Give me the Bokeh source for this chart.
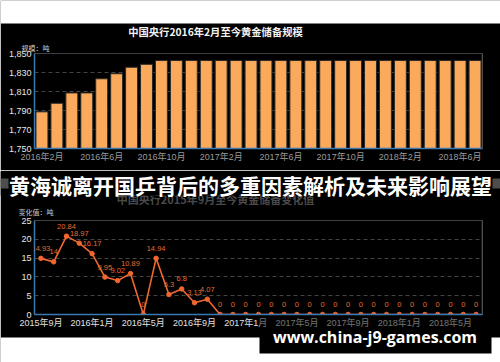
from bokeh.plotting import figure
from bokeh.layouts import column
from bokeh.models import (FixedTicker, Label, LabelSet, BoxAnnotation, Span, Range1d,
                          ColumnDataSource, NumeralTickFormatter)
from bokeh.embed import file_html
from bokeh.resources import INLINE
from bokeh.core.properties import value

# ---------------- data ----------------
months_top = ["2016年2月", "2016年3月", "2016年4月", "2016年5月", "2016年6月", "2016年7月",
              "2016年8月", "2016年9月", "2016年10月", "2016年11月", "2016年12月", "2017年1月",
              "2017年2月", "2017年3月", "2017年4月", "2017年5月", "2017年6月", "2017年7月",
              "2017年8月", "2017年9月", "2017年10月", "2017年11月", "2017年12月", "2018年1月",
              "2018年2月", "2018年3月", "2018年4月", "2018年5月", "2018年6月", "2018年7月"]
reserves = [1788.6, 1797.6, 1808.5, 1808.5, 1823.4, 1828.7, 1835.5, 1838.6, 1842.6, 1842.6,
            1842.6, 1842.6, 1842.6, 1842.6, 1842.6, 1842.6, 1842.6, 1842.6, 1842.6, 1842.6,
            1842.6, 1842.6, 1842.6, 1842.6, 1842.6, 1842.6, 1842.6, 1842.6, 1842.6, 1842.6]
top_yticks = [1750, 1770, 1790, 1810, 1830, 1850]

months_bottom = ["2015年9月", "2015年10月", "2015年11月", "2015年12月", "2016年1月", "2016年2月",
                 "2016年3月", "2016年4月", "2016年5月", "2016年6月", "2016年7月", "2016年8月",
                 "2016年9月", "2016年10月", "2016年11月", "2016年12月", "2017年1月", "2017年2月",
                 "2017年3月", "2017年4月", "2017年5月", "2017年6月", "2017年7月", "2017年8月",
                 "2017年9月", "2017年10月", "2017年11月", "2017年12月", "2018年1月", "2018年2月",
                 "2018年3月", "2018年4月", "2018年5月", "2018年6月", "2018年7月"]
changes = [14.93, 14, 20.84, 18.97, 16.17, 9.95, 9.02, 10.89, 0, 14.94, 5.3, 6.8, 3.13, 4.07,
           0, 0, 0, 0, 0, 0, 0, 0, 0, 0, 0, 0, 0, 0, 0, 0, 0, 0, 0, 0, 0]
bottom_yticks = [0, 5, 10, 15, 20, 25]

top_title = "中国央行2016年2月至今黄金储备规模"
bottom_title = "中国央行2015年9月至今黄金储备变化值"
top_unit = "规模：吨"
bottom_unit = "变化值：吨"
banner = "黄海诚离开国乒背后的多重因素解析及未来影响展望"
watermark = "www.china-j9-games.com"

# ---------------- styles ----------------
FONT = "Liberation Sans, Noto Sans CJK SC, sans-serif"
CJK = "Noto Sans CJK SC"
AXIS_BLUE = "#3c78b0"
BAR = "#fba95a"
LINE = "#f0672f"


def style_common(p):
    p.xgrid.grid_line_color = None
    p.ygrid.grid_line_color = "#454545"
    p.ygrid.grid_line_dash = "4 3"
    for ax in (p.xaxis, p.yaxis):
        ax.axis_line_color = AXIS_BLUE
        ax.axis_line_width = 1.5
        ax.major_tick_line_color = None
        ax.minor_tick_line_color = None
        ax.major_tick_out = 0
        ax.major_tick_in = 0
        ax.minor_tick_out = 0
        ax.minor_tick_in = 0
        ax.major_label_text_font = FONT
        ax.major_label_text_font_size = "9px"
    p.xaxis.major_label_standoff = 3
    p.yaxis.major_label_standoff = 3
    p.yaxis.major_label_text_color = "#e6e6e6"


# ---------------- top chart ----------------
p1 = figure(width=500, height=170, x_range=(-0.5, len(months_top) - 0.5),
            y_range=(top_yticks[0], top_yticks[-1]),
            output_backend="svg", toolbar_location=None,
            min_border_left=34, min_border_right=18, min_border_top=53, min_border_bottom=22,
            background_fill_color="black", border_fill_color="black", outline_line_color=None)
src1 = ColumnDataSource(dict(x=list(range(len(months_top))), top=reserves))
p1.vbar(x="x", top="top", bottom=top_yticks[0], width=0.8, source=src1,
        fill_color=BAR, line_color="#2b2b2b", line_width=1)
style_common(p1)
p1.yaxis.ticker = FixedTicker(ticks=top_yticks)
p1.ygrid.ticker = FixedTicker(ticks=top_yticks)
p1.yaxis.formatter = NumeralTickFormatter(format="0,0")
top_ticks = list(range(0, len(months_top), 4))
p1.xaxis.ticker = FixedTicker(ticks=top_ticks)
p1.xaxis.major_label_overrides = {i: months_top[i] for i in top_ticks}
p1.xaxis.major_label_text_color = "#9a9a9a"
p1.add_layout(Span(location=len(months_top) - 0.5, dimension="height",
                   line_color="#5e5e5e", line_width=1.5))

# ---------------- bottom chart ----------------
p2 = figure(width=500, height=192, x_range=(-0.5, len(months_bottom) - 0.5),
            y_range=(bottom_yticks[0], bottom_yticks[-1]),
            output_backend="svg", toolbar_location=None,
            min_border_left=34, min_border_right=18, min_border_top=50, min_border_bottom=48,
            background_fill_color="black", border_fill_color="black", outline_line_color=None)
src2 = ColumnDataSource(dict(x=list(range(len(months_bottom))), y=changes,
                             label=[f"{v:g}" for v in changes]))
p2.line(x="x", y="y", source=src2, line_color=LINE, line_width=1.6)
p2.scatter(x="x", y="y", source=src2, size=4.5, fill_color=LINE, line_color=LINE)
p2.add_layout(LabelSet(x="x", y="y", text="label", source=src2, y_offset=10,
                       text_align="center", text_baseline="middle",
                       text_font=value("Liberation Sans"), text_font_size="7.5px",
                       text_color="#e56c35"))
style_common(p2)
p2.yaxis.ticker = FixedTicker(ticks=bottom_yticks)
p2.ygrid.ticker = FixedTicker(ticks=bottom_yticks)
bot_ticks = list(range(0, len(months_bottom), 4))
p2.xaxis.ticker = FixedTicker(ticks=bot_ticks)
p2.xaxis.major_label_overrides = {i: months_bottom[i] for i in bot_ticks}
p2.xaxis.major_label_text_color = "#e0e0e0"
p2.add_layout(Span(location=len(months_bottom) - 0.5, dimension="height",
                   line_color="#5e5e5e", line_width=1.5))

# ---------------- overlay (titles, banner, watermark) ----------------
ov = figure(width=500, height=362, x_range=Range1d(0, 500), y_range=Range1d(362, 0),
            x_axis_type=None, y_axis_type=None, toolbar_location=None, output_backend="svg",
            min_border=0, background_fill_color=None, border_fill_color=None,
            outline_line_color=None,
            styles={"position": "absolute", "top": "0px", "left": "0px", "z-index": "10"})


def box(l, r, t, b, color, alpha=1.0):
    ov.add_layout(BoxAnnotation(left=l, right=r, top=t, bottom=b, fill_color=color,
                                fill_alpha=alpha, line_color=None))


def text(x, y, s, size, color, align="center", bold=False, font=CJK):
    ov.add_layout(Label(x=x, y=y, text=s, text_align=align, text_baseline="middle",
                        text_font=font, text_font_size=size, text_color=color,
                        text_font_style="bold" if bold else "normal"))


box(0, 500, 0, 23, "white")
text(215, 31, top_title, "10.3px", "#f2f2f2", bold=True)
text(21, 47, top_unit, "7px", "#cccccc", align="left")
text(215, 198, bottom_title, "11px", "#4a4a4a", bold=True)
text(18, 211, bottom_unit, "7px", "#cccccc", align="left")
box(0, 500, 171, 195, "black")
box(0, 8, 178, 188, "#4d4d4d")
box(492, 500, 178, 188, "#4d4d4d")
text(250, 184, banner, "21px", "white", bold=True)
box(0, 500, 337, 362, "white")
box(259, 491, 316, 330, "black", 0.5)
box(259, 491, 330, 353, "black")
text(374.5, 336.5, watermark, "16px", "white", bold=True, font="Open Sans")

charts = column(p1, p2, spacing=0)
open("out.html", "w").write(file_html([charts, ov], INLINE))
